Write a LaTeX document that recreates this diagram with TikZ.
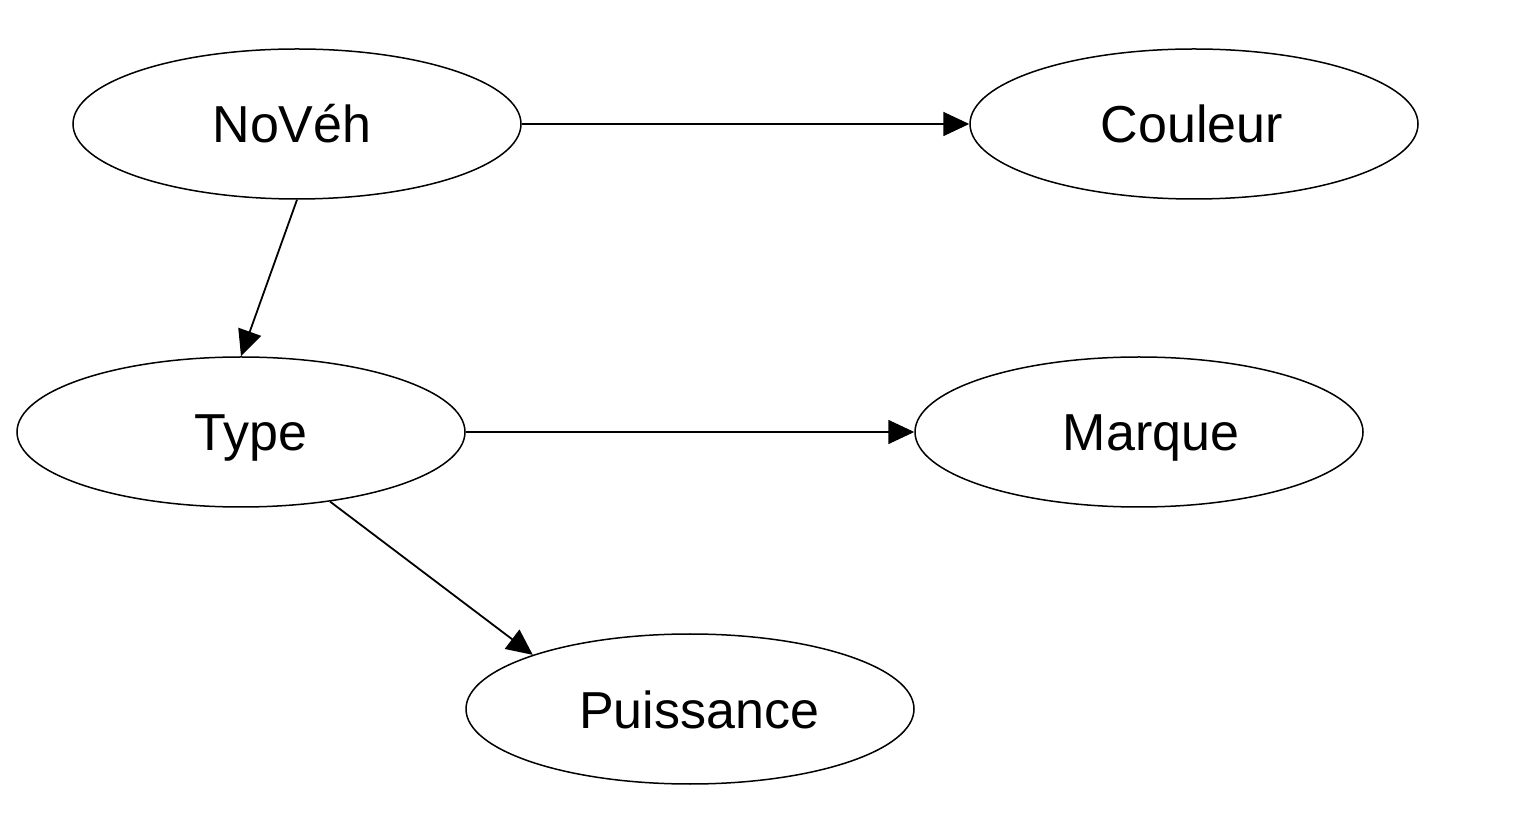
\documentclass[tikz,border=0pt]{standalone}
\usepackage{fontspec}
\setmainfont{Liberation Sans}
\usetikzlibrary{shapes.geometric,arrows.meta}
\begin{document}
\begin{tikzpicture}[x=1pt,y=1pt,
  attr/.style={ellipse,draw,line width=1.5pt,minimum width=448pt,minimum height=150pt,inner sep=0pt},
  lbl/.style={anchor=base,inner sep=0pt,font=\fontsize{52}{60}\selectfont},
  link/.style={line width=1.8pt,-{Triangle[length=26pt,width=24pt]}}]
\useasboundingbox (0,0) rectangle (1528,830);
\node[attr] (nv) at (297,706) {};
\node[attr] (co) at (1194,706) {};
\node[attr] (ty) at (241,398) {};
\node[attr] (ma) at (1139,398) {};
\node[attr] (pu) at (690,121) {};
\node[lbl] (nvl) at ([xshift=-5pt,yshift=-19pt]nv.center) {NoVéh};
\node[lbl] (col) at ([xshift=-2pt,yshift=-19pt]co.center) {Couleur};
\node[lbl] (tyl) at ([xshift=10pt,yshift=-19pt]ty.center) {Type};
\node[lbl] (mal) at ([xshift=12pt,yshift=-19pt]ma.center) {Marque};
\node[lbl] (pul) at ([xshift=9pt,yshift=-19pt]pu.center) {Puissance};
\draw[link] (nv.east) -- (co.west);
\draw[link] (nv.south) -- (ty.north);
\draw[link] (ty.east) -- (ma.west);
\draw[link] (ty.-38.6) -- (pu.161.7);
\end{tikzpicture}
\end{document}
